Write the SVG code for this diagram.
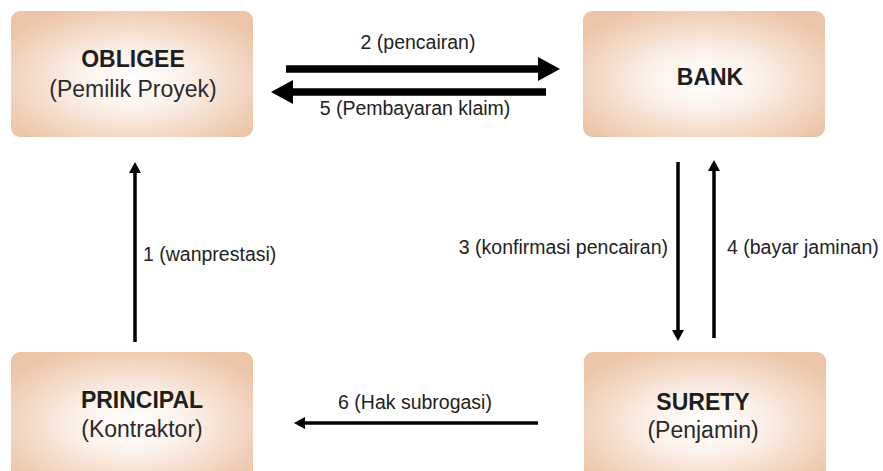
<svg xmlns="http://www.w3.org/2000/svg" width="883" height="471" viewBox="0 0 883 471">
  <defs>
    <radialGradient id="nodeFill" cx="50%" cy="55%" r="62%">
      <stop offset="0" stop-color="#ffffff"/>
      <stop offset="0.35" stop-color="#fcf2eb"/>
      <stop offset="1" stop-color="#ecc5a8"/>
    </radialGradient>
    <marker id="bigHead" markerUnits="userSpaceOnUse" viewBox="0 0 22 24" markerWidth="22" markerHeight="24" refX="1" refY="12" orient="auto">
      <path d="M0,0 L22,12 L0,24 Z" fill="#000"/>
    </marker>
    <marker id="smallHead" markerUnits="userSpaceOnUse" viewBox="0 0 11 12" markerWidth="11" markerHeight="12" refX="1" refY="6" orient="auto">
      <path d="M0,0 L11,6 L0,12 Z" fill="#000"/>
    </marker>
  </defs>
  <style>
    .box { fill: url(#nodeFill); }
    .title { font-family: "Liberation Sans", Arial, sans-serif; font-size: 23px; font-weight: bold; fill: #1e1e1e; text-anchor: middle; }
    .sub { font-family: "Liberation Sans", Arial, sans-serif; font-size: 23px; fill: #2a2a2a; text-anchor: middle; }
    .lbl { font-family: "Liberation Sans", Arial, sans-serif; font-size: 19.5px; fill: #222; }
    .thick { stroke: #000; stroke-width: 7.5; fill: none; marker-end: url(#bigHead); }
    .thin { stroke: #000; stroke-width: 3.5; fill: none; marker-end: url(#smallHead); }
  </style>
  <rect width="883" height="471" fill="#ffffff"/>

  <g id="obligee">
    <rect class="box" x="11" y="11" width="242" height="126" rx="9"/>
    <text class="title" x="133" y="67">OBLIGEE</text>
    <text class="sub" x="133" y="97">(Pemilik Proyek)</text>
  </g>

  <g id="bank">
    <rect class="box" x="583" y="11" width="242" height="126" rx="9"/>
    <text class="title" x="710" y="85">BANK</text>
  </g>

  <g id="principal">
    <rect class="box" x="11" y="352" width="242" height="130" rx="9"/>
    <text class="title" x="142" y="408">PRINCIPAL</text>
    <text class="sub" x="142" y="437">(Kontraktor)</text>
  </g>

  <g id="surety">
    <rect class="box" x="584" y="352" width="242" height="130" rx="9"/>
    <text class="title" x="703" y="410">SURETY</text>
    <text class="sub" x="703" y="438">(Penjamin)</text>
  </g>

  <g id="connectors">
    <line class="thick" x1="286" y1="69" x2="539" y2="69"/>
    <line class="thick" x1="546" y1="92" x2="292" y2="92"/>
    <line class="thin" x1="135" y1="342" x2="135" y2="172"/>
    <line class="thin" x1="678" y1="162" x2="678" y2="331"/>
    <line class="thin" x1="714" y1="338" x2="714" y2="170"/>
    <line class="thin" x1="538" y1="423" x2="304" y2="423"/>

    <text class="lbl" x="418" y="49" text-anchor="middle">2 (pencairan)</text>
    <text class="lbl" x="415" y="115" text-anchor="middle">5 (Pembayaran klaim)</text>
    <text class="lbl" x="143" y="261">1 (wanprestasi)</text>
    <text class="lbl" x="668" y="254" text-anchor="end">3 (konfirmasi pencairan)</text>
    <text class="lbl" x="727" y="254">4 (bayar jaminan)</text>
    <text class="lbl" x="415" y="409" text-anchor="middle">6 (Hak subrogasi)</text>
  </g>
</svg>
